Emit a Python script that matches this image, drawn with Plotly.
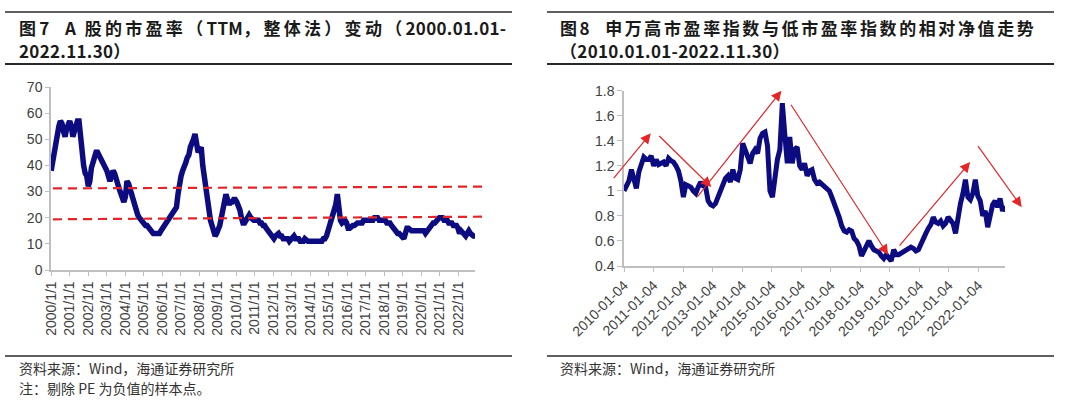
import plotly.graph_objects as go
import pandas as pd

W, H = 1080, 404


def px(x):
    return x / W


def py(y):
    return 1 - y / H


# ---------------- Figure 7: A-share PE (TTM), monthly 2000-01 .. 2022-11 ----------------
pe_2000 = [38, 42, 46, 49, 52, 55, 57, 56, 53, 51, 54, 56]
pe_2001 = [57, 55, 51, 53, 56, 57, 57, 50, 43, 40, 37, 36]
pe_2002 = [32, 34, 39, 41, 43, 45, 45, 44, 42, 41, 40, 39]
pe_2003 = [38, 36, 34, 36, 38, 37, 34, 33, 31, 29, 27, 26]
pe_2004 = [28, 34, 33, 31, 29, 26, 24, 22, 21, 20, 19, 19]
pe_2005 = [18, 17, 17, 16, 15, 15, 14, 14, 14, 14, 14, 15]
pe_2006 = [16, 17, 18, 19, 20, 21, 21, 22, 23, 24, 29, 34]
pe_2007 = [36, 38, 39, 41, 43, 44, 47, 48, 50, 52, 47, 45]
pe_2008 = [46, 47, 40, 35, 31, 27, 22, 19, 17, 15, 13, 14]
pe_2009 = [15, 17, 20, 24, 27, 29, 27, 25, 26, 26, 27, 27]
pe_2010 = [26, 25, 23, 20, 18, 18, 19, 20, 21, 20, 19, 19]
pe_2011 = [19, 19, 19, 18, 18, 17, 17, 16, 15, 15, 14, 13]
pe_2012 = [12, 13, 14, 14, 13, 13, 12, 12, 12, 12, 11, 12]
pe_2013 = [13, 13, 12, 12, 12, 11, 11, 11, 12, 11, 11, 11]
pe_2014 = [11, 11, 11, 11, 11, 11, 11, 11, 12, 12, 13, 15]
pe_2015 = [17, 18, 20, 22, 25, 29, 23, 19, 18, 19, 19, 18]
pe_2016 = [16, 16, 17, 17, 17, 18, 18, 18, 18, 18, 19, 19]
pe_2017 = [19, 19, 19, 19, 19, 20, 20, 20, 19, 19, 19, 19]
pe_2018 = [19, 18, 18, 18, 17, 16, 16, 15, 14, 14, 13, 13]
pe_2019 = [12, 14, 16, 16, 15, 15, 15, 15, 15, 15, 15, 15]
pe_2020 = [15, 15, 14, 15, 15, 16, 18, 18, 18, 19, 19, 20]
pe_2021 = [20, 20, 19, 19, 19, 18, 18, 18, 17, 17, 17, 16]
pe_2022 = [14, 15, 14, 14, 13, 14, 15, 14, 13, 13, 13]

pe_values = (pe_2000 + pe_2001 + pe_2002 + pe_2003 + pe_2004 + pe_2005 + pe_2006
             + pe_2007 + pe_2008 + pe_2009 + pe_2010 + pe_2011 + pe_2012 + pe_2013
             + pe_2014 + pe_2015 + pe_2016 + pe_2017 + pe_2018 + pe_2019 + pe_2020
             + pe_2021 + pe_2022)
pe_dates = pd.date_range("2000-01-04", "2022-11-30", periods=len(pe_values))

pe_tick_years = list(range(2000, 2023))
pe_tick_vals = [f"{y}-01-01" for y in pe_tick_years]
pe_tick_text = [f"{y}/1/1" for y in pe_tick_years]

# dashed reference levels (left end, right end)
pe_ref_upper = [31.2, 31.9]
pe_ref_lower = [19.4, 20.4]

# ---------------- Figure 8: relative NAV high-PE vs low-PE, monthly 2010-01 .. 2022-11 ----------------
rel_2010 = [1.00, 1.05, 1.08, 1.17, 1.10, 1.02, 1.15, 1.20, 1.27, 1.25, 1.25, 1.28]
rel_2011 = [1.20, 1.25, 1.21, 1.22, 1.23, 1.20, 1.26, 1.24, 1.23, 1.20, 1.16, 1.08]
rel_2012 = [0.95, 1.05, 1.04, 1.03, 1.00, 0.98, 1.03, 1.07, 1.04, 1.03, 0.92, 0.89]
rel_2013 = [0.88, 0.90, 0.95, 1.00, 1.04, 1.10, 1.12, 1.07, 1.17, 1.10, 1.09, 1.17]
rel_2014 = [1.38, 1.32, 1.28, 1.22, 1.30, 1.33, 1.30, 1.42, 1.46, 1.47, 1.36, 1.00]
rel_2015 = [0.95, 1.12, 1.25, 1.33, 1.70, 1.45, 1.22, 1.43, 1.22, 1.33, 1.35, 1.20]
rel_2016 = [1.17, 1.22, 1.12, 1.16, 1.17, 1.09, 1.06, 1.07, 1.05, 1.04, 1.02, 1.00]
rel_2017 = [0.95, 0.90, 0.86, 0.79, 0.72, 0.68, 0.67, 0.69, 0.68, 0.62, 0.60, 0.56]
rel_2018 = [0.48, 0.52, 0.58, 0.60, 0.56, 0.53, 0.52, 0.51, 0.48, 0.46, 0.49, 0.47]
rel_2019 = [0.44, 0.53, 0.49, 0.49, 0.50, 0.51, 0.52, 0.53, 0.55, 0.54, 0.52, 0.53]
rel_2020 = [0.58, 0.61, 0.66, 0.70, 0.73, 0.79, 0.75, 0.74, 0.76, 0.72, 0.74, 0.79]
rel_2021 = [0.77, 0.74, 0.66, 0.79, 0.90, 0.98, 1.09, 0.95, 0.93, 0.98, 1.09, 0.96]
rel_2022 = [0.92, 0.80, 0.84, 0.71, 0.80, 0.89, 0.92, 0.87, 0.94, 0.84, 0.88]

rel_values = (rel_2010 + rel_2011 + rel_2012 + rel_2013 + rel_2014 + rel_2015
              + rel_2016 + rel_2017 + rel_2018 + rel_2019 + rel_2020 + rel_2021 + rel_2022)
rel_dates = pd.date_range("2010-01-04", "2022-11-30", periods=len(rel_values))

rel_tick_years = list(range(2010, 2023))
rel_tick_vals = [f"{y}-01-04" for y in rel_tick_years]
rel_tick_text = [f"{y}-01-04" for y in rel_tick_years]

# trend arrows: tail (date, value) -> head (date, value)
arrow_tail_dates = ["2009-08-15", "2011-02-25", "2012-06-15", "2015-08-20", "2019-04-20", "2021-12-18"]
arrow_tail_vals = [1.09, 1.45, 0.94, 1.70, 0.55, 1.37]
arrow_head_dates = ["2010-12-01", "2012-12-20", "2015-05-05", "2018-12-15", "2021-09-25", "2023-06-25"]
arrow_head_vals = [1.46, 1.03, 1.80, 0.49, 1.23, 0.87]

# ---------------- texts ----------------
NB = "\u00a0"
title7_l1 = ["图7", NB * 3 + "A" + NB * 2, "股的市盈率（", "TTM", "，整体法）变动（", "2000.01.01-"]
title7_l2 = "2022.11.30）"
title8_l1 = "图8" + NB * 2 + "申万高市盈率指数与低市盈率指数的相对净值走势"
title8_l2 = "（2010.01.01-2022.11.30）"
source_txt = "资料来源：Wind，海通证券研究所"
note_txt = "注：剔除 PE 为负值的样本点。"

NAVY = "#0c0c80"
RED = "#e3262a"
AXIS = "#bfbfbf"
TICKFONT = dict(family="Liberation Sans, Arial, sans-serif", size=14, color="#404040")
CJK = "Noto Sans CJK SC, sans-serif"

fig = go.Figure()

fig.add_trace(go.Scatter(x=pe_dates, y=pe_values, mode="lines",
                         line=dict(color=NAVY, width=5.5), xaxis="x", yaxis="y",
                         showlegend=False, hoverinfo="skip"))
fig.add_trace(go.Scatter(x=rel_dates, y=rel_values, mode="lines",
                         line=dict(color=NAVY, width=5), xaxis="x2", yaxis="y2",
                         showlegend=False, hoverinfo="skip"))

common_axis = dict(showline=True, linecolor=AXIS, linewidth=1.5, ticks="outside",
                   ticklen=4, tickcolor=AXIS, tickwidth=1, showgrid=False, zeroline=False,
                   tickfont=TICKFONT, automargin=False)

fig.update_layout(
    width=W, height=H, margin=dict(l=0, r=0, t=0, b=0, autoexpand=False),
    paper_bgcolor="white", plot_bgcolor="white",
    xaxis=dict(common_axis, type="date", domain=[px(51), px(475)],
               range=["2000-01-01", "2022-11-30"], tickmode="array",
               tickvals=pe_tick_vals, ticktext=pe_tick_text, tickangle=-90, anchor="y"),
    yaxis=dict(common_axis, domain=[py(270), py(87)], range=[0, 70], dtick=10,
               anchor="x"),
    xaxis2=dict(common_axis, type="date", domain=[px(624), px(1005)],
                range=["2010-01-04", "2022-11-30"], tickmode="array",
                tickvals=rel_tick_vals, ticktext=rel_tick_text, tickangle=-45, anchor="y2"),
    yaxis2=dict(common_axis, domain=[py(266), py(90.7)], range=[0.4, 1.8], dtick=0.2,
                anchor="x2", ticklen=5),
)

shapes = []
# reference dashed lines
for lv in (pe_ref_upper, pe_ref_lower):
    shapes.append(dict(type="line", xref="paper", yref="y", x0=px(53), x1=px(487),
                       y0=lv[0], y1=lv[1], line=dict(color=RED, width=2.2, dash="9px,6px")))
# rules
for (x0, x1) in ((5, 512), (547, 1054)):
    shapes.append(dict(type="line", xref="paper", yref="paper", x0=px(x0), x1=px(x1),
                       y0=py(12), y1=py(12), line=dict(color="#2a2a2a", width=1.5)))
    shapes.append(dict(type="line", xref="paper", yref="paper", x0=px(x0), x1=px(x1),
                       y0=py(64), y1=py(64), line=dict(color="#2a2a2a", width=2)))
    shapes.append(dict(type="line", xref="paper", yref="paper", x0=px(x0), x1=px(x1),
                       y0=py(356), y1=py(356), line=dict(color="#2a2a2a", width=1.5)))
fig.update_layout(shapes=shapes)

ann = []
for xd, yv, axd, ayv in zip(arrow_head_dates, arrow_head_vals, arrow_tail_dates, arrow_tail_vals):
    ann.append(dict(x=xd, y=yv, ax=axd, ay=ayv, xref="x2", yref="y2",
                    axref="x2", ayref="y2", text="", showarrow=True, arrowhead=2,
                    arrowsize=1.7, arrowwidth=1.2, arrowcolor=RED, standoff=0))


def label(text, x, y, size, color="#1a1a1a"):
    return dict(text=text, x=px(x), y=py(y), xref="paper", yref="paper", xanchor="left",
                yanchor="middle", showarrow=False,
                font=dict(family=CJK, size=size, color=color))


def spaced(parts, cjk_sp, lat_sp):
    out = []
    for i, p in enumerate(parts):
        sp = cjk_sp if i % 2 == 0 else lat_sp
        out.append(f'<span style="letter-spacing:{sp}px">{p}</span>')
    return "<b>" + "".join(out) + "</b>"


ann.append(label(spaced(title7_l1, 3.3, 0.3), 17, 27, 17))
ann.append(label(f'<b><span style="letter-spacing:0.3px">{title7_l2}</span></b>', 17, 50, 17))
ann.append(label(f'<b><span style="letter-spacing:2.6px">{title8_l1}</span></b>', 558, 27, 17))
ann.append(label(f'<b><span style="letter-spacing:0.3px">{title8_l2}</span></b>', 558, 50, 17))
ann.append(label(source_txt, 17, 368, 14, color="#333333"))
ann.append(label(note_txt, 17, 388, 14, color="#333333"))
ann.append(label(source_txt, 558, 368, 14, color="#333333"))
fig.update_layout(annotations=ann)

fig.write_html("out.html")
